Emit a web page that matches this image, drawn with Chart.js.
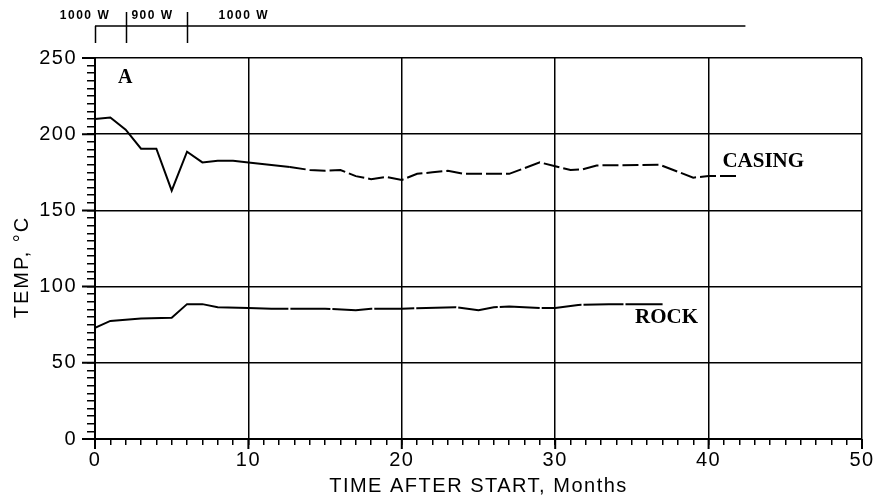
<!DOCTYPE html>
<html><head><meta charset="utf-8">
<script src="https://cdn.jsdelivr.net/npm/chart.js@4.4.1/dist/chart.umd.min.js"></script>
<style>html,body{margin:0;padding:0;background:#fff}</style>
</head><body>
<canvas id="c" width="879" height="500"></canvas>
<script>
// ---- data ----
const casingMonths = [0,1,2,3,4,5,6,7,8,9,10,12.7,14,15,16,17,18,19,20,21,22,23,24,27,29,30,31,31.8,32.7,36.8,39,40,42];
const casingTemp   = [210,211,203,190.5,190.5,163,188.5,181.5,182.5,182.5,181.5,178.5,176.5,176,176.5,172.5,170.5,172,170,174,175,176,174,174,181.5,179,176.5,177,179.5,180,171.5,172.5,172.5];
const rockMonths = [0,1,3,5,6,7,8,10,11.5,15,17,18,20,23.5,25,26,27,29,30,31.5,33.5,37];
const rockTemp   = [73,77.5,79,79.5,88.5,88.5,86.5,86,85.5,85.5,84.5,85.5,85.5,86.5,84.5,86.5,87,86,86,88,88.5,88.5];
const xTickLabels = [0,10,20,30,40,50];
const yTickLabels = [0,50,100,150,200,250];
const seriesLabels = ['CASING','ROCK'];
const panelLabel = 'A';
const powerLabels = ['1000 W','900 W','1000 W'];
const powerChangeMonths = [0,2,6];
const xTitle = 'TIME AFTER START, Months';
const yTitle = 'TEMP, °C';

const toPts = (xs, ys) => xs.map((v, i) => ({x: v, y: ys[i]}));

const annot = {
  id: 'annot',
  beforeDraw(chart) { chart.ctx.letterSpacing = '1.5px'; },
  afterDraw(chart) {
    const {ctx, scales: {x, y}} = chart;
    ctx.save();
    ctx.letterSpacing = '0px';
    ctx.fillStyle = '#000'; ctx.strokeStyle = '#000';

    // longer major ticks
    ctx.lineWidth = 2;
    ctx.beginPath();
    yTickLabels.forEach(v => {
      const py = y.getPixelForValue(v);
      ctx.moveTo(x.left - 13, py); ctx.lineTo(x.left, py);
    });
    xTickLabels.forEach(v => {
      const px = x.getPixelForValue(v);
      ctx.moveTo(px, y.bottom); ctx.lineTo(px, y.bottom + 10);
    });
    ctx.stroke();

    ctx.font = 'bold 20px "Liberation Serif"';
    ctx.textBaseline = 'middle'; ctx.textAlign = 'left';
    ctx.fillText(panelLabel, x.getPixelForValue(1.5), y.getPixelForValue(237));
    ctx.font = 'bold 21px "Liberation Serif"';
    ctx.fillText(seriesLabels[0], x.getPixelForValue(40.9), y.getPixelForValue(182));
    ctx.fillText(seriesLabels[1], x.getPixelForValue(35.2), y.getPixelForValue(80));

    // power level bracket above plot
    ctx.lineWidth = 1.5;
    ctx.beginPath();
    ctx.moveTo(x.getPixelForValue(0), 26);
    ctx.lineTo(x.getPixelForValue(42.4), 26);
    powerChangeMonths.forEach((m, i) => {
      const px = Math.round(x.getPixelForValue(m)) + 0.5;
      ctx.moveTo(px, i === 0 ? 26 : 12);
      ctx.lineTo(px, 43);
    });
    ctx.stroke();
    ctx.font = 'bold 12px "Liberation Sans"';
    ctx.letterSpacing = '1.5px';
    ctx.textAlign = 'center';
    const centers = [-0.65, 3.75, 9.7];
    powerLabels.forEach((t, i) => ctx.fillText(t, x.getPixelForValue(centers[i]), 16));

    // y axis title
    ctx.font = '20px "Liberation Sans"';
    ctx.letterSpacing = '2px';
    ctx.translate(22, 267);
    ctx.rotate(-Math.PI / 2);
    ctx.textAlign = 'center';
    ctx.fillText(yTitle, 0, 0);
    ctx.restore();
  }
};

new Chart(document.getElementById('c'), {
  type: 'line',
  data: {
    datasets: [
      {
        label: seriesLabels[0],
        data: toPts(casingMonths, casingTemp),
        borderColor: '#000', borderWidth: 2, pointRadius: 0, tension: 0,
        segment: { borderDash: c => c.p0.parsed.x >= 12 ? [16, 4] : undefined }
      },
      {
        label: seriesLabels[1],
        data: toPts(rockMonths, rockTemp),
        borderColor: '#000', borderWidth: 2, pointRadius: 0, tension: 0,
        segment: { borderDash: c => c.p0.parsed.x >= 10 ? [40, 2] : undefined }
      }
    ]
  },
  options: {
    responsive: false,
    animation: false,
    devicePixelRatio: 1,
    layout: { padding: { top: 58, right: 17, left: 0, bottom: 0 } },
    plugins: { legend: { display: false }, tooltip: { enabled: false } },
    scales: {
      x: {
        type: 'linear', min: 0, max: 50,
        afterFit: s => { s.height = 61; },
        border: { display: true, color: '#000', width: 2 },
        grid: {
          color: c => (c.tick && c.tick.value % 10 === 0) ? '#000' : 'rgba(0,0,0,0)',
          lineWidth: 1.5, tickColor: '#000', tickLength: 6, tickWidth: 1.5
        },
        ticks: {
          stepSize: 1, maxTicksLimit: 1000, autoSkip: false, maxRotation: 0,
          padding: 3, color: '#000',
          font: { family: 'Liberation Sans', size: 20 },
          callback: v => xTickLabels.includes(v) ? String(v) : ''
        },
        title: {
          display: true, text: xTitle, color: '#000',
          font: { family: 'Liberation Sans', size: 20 },
          padding: { top: 0, bottom: 2 }
        }
      },
      y: {
        min: 0, max: 250,
        afterFit: s => { s.width = 95; },
        border: { display: true, color: '#000', width: 2 },
        grid: {
          color: c => (c.tick && c.tick.value % 50 === 0) ? '#000' : 'rgba(0,0,0,0)',
          lineWidth: 1.5, tickColor: '#000', tickLength: 8, tickWidth: 1.5
        },
        ticks: {
          stepSize: 5, maxTicksLimit: 1000, autoSkip: false,
          padding: 10, color: '#000',
          font: { family: 'Liberation Sans', size: 20 },
          callback: v => yTickLabels.includes(v) ? String(v) : ''
        }
      }
    }
  },
  plugins: [annot]
});
</script>
</body></html>
